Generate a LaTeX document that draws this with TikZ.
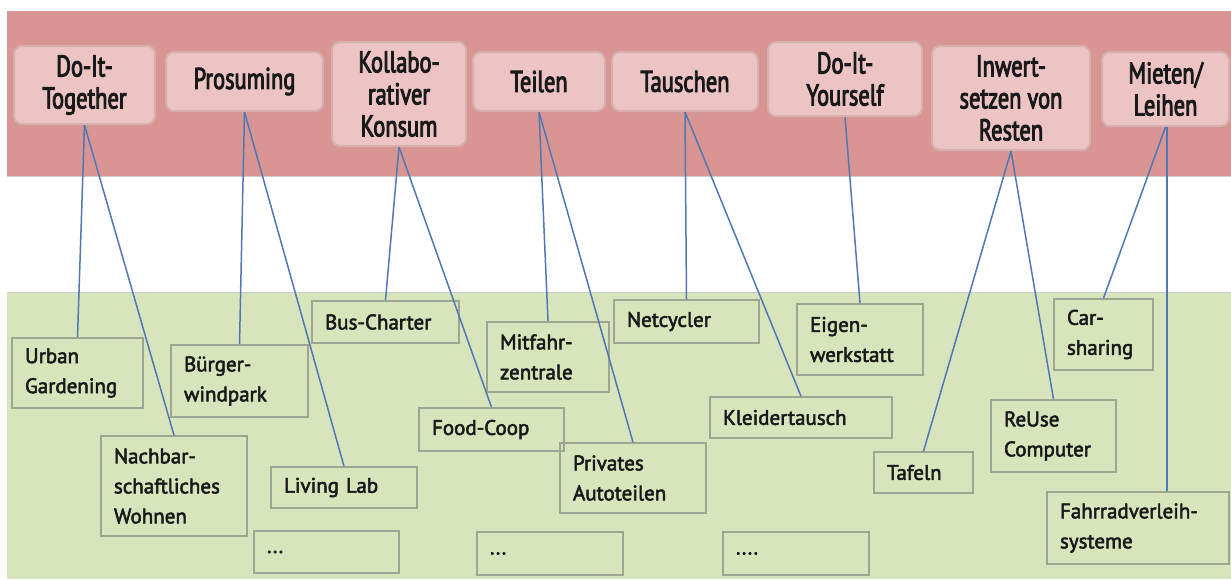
\documentclass[tikz,border=0pt]{standalone}
\usepackage{fontspec}
\setmainfont{PT Sans}[FakeBold=2.5]
\newfontfamily\headfont{PT Sans}[FakeStretch=0.75, FakeBold=3]
\definecolor{redband}{RGB}{217,149,148}
\definecolor{greenband}{RGB}{216,228,188}
\definecolor{catfill}{RGB}{236,196,196}
\definecolor{catline}{RGB}{214,176,174}
\definecolor{itemline}{RGB}{160,165,145}
\definecolor{linkblue}{RGB}{80,120,180}
\definecolor{txt}{RGB}{25,25,25}
\begin{document}
\begin{tikzpicture}[x=0.5pt, y=-0.5pt,
		cat/.style = {shape=rectangle, rounded corners=4pt, draw=catline,
			line width=1pt, fill=catfill, align=center, inner ysep=2pt,
			text=txt, font=\headfont\fontsize{15}{16}\selectfont},
		item/.style = {shape=rectangle, draw=itemline, line width=0.8pt,
			align=left, inner xsep=6.5pt, inner ysep=2pt,
			text=txt, font=\fontsize{10.5}{15}\selectfont},
		link/.style = {draw=linkblue, line width=0.75pt}]
	\useasboundingbox (0,0) rectangle (1231,579);
	% bands
	\fill[redband] (7,11) rectangle (1231,176);
	\draw[black!20, line width=0.4pt] (7,176) -- (1231,176);
	\fill[greenband] (7,292) rectangle (1231,579);
	\draw[black!20, line width=0.4pt] (7,292) -- (1231,292);
	% categories
	\node[cat, minimum width=70.5pt, minimum height=39pt] (dit) at (84.5,85) {Do-It-\\Together};
	\node[cat, minimum width=78.5pt, minimum height=29.5pt] (pro) at (244.5,81.5) {Prosuming};
	\node[cat, minimum width=67pt, minimum height=52pt] (kk) at (399,94) {Kollabo-\\rativer\\Konsum};
	\node[cat, minimum width=66pt, minimum height=29.5pt] (tei) at (539,81.5) {Teilen};
	\node[cat, minimum width=73pt, minimum height=29.5pt] (tau) at (685,81.5) {Tauschen};
	\node[cat, minimum width=77pt, minimum height=37pt] (diy) at (845,79) {Do-It-\\Yourself};
	\node[cat, minimum width=79pt, minimum height=52pt] (inw) at (1011,98) {Inwert-\\setzen von\\Resten};
	\node[cat, minimum width=63.5pt, minimum height=37pt] (mie) at (1165.5,89) {Mieten/\\Leihen};
	% examples
	\node[item, text width=52.5pt, minimum height=35pt] (ug) at (77.5,373) {Urban\\Gardening};
	\node[item, text width=60pt, minimum height=50pt] (nw) at (174,486) {Nachbar-\\schaftliches\\Wohnen};
	\node[item, text width=55.5pt, minimum height=36pt] (bw) at (239.5,381) {Bürger-\\windpark};
	\node[item, text width=60pt, minimum height=20.5pt] (ll) at (344,487.5) {Living Lab};
	\node[item, text width=59.5pt, minimum height=21pt] (dotsa) at (326.5,552) {...};
	\node[item, text width=60.5pt, minimum height=21pt] (bc) at (385.5,322) {Bus-Charter};
	\node[item, text width=48pt, minimum height=35pt] (mz) at (548,357) {Mitfahr-\\zentrale};
	\node[item, text width=59.5pt, minimum height=21.5pt] (fc) at (491.5,429.5) {Food-Coop};
	\node[item, text width=60pt, minimum height=35pt] (pa) at (633,478) {Privates\\Autoteilen};
	\node[item, text width=60pt, minimum height=21.5pt] (dotsb) at (550,553.5) {...};
	\node[item, text width=59.5pt, minimum height=21.5pt] (nc) at (686.5,321.5) {Netcycler};
	\node[item, text width=78pt, minimum height=20.5pt] (kt) at (801,417.5) {Kleidertausch};
	\node[item, text width=50pt, minimum height=35.5pt] (ew) at (860,339.5) {Eigen-\\werkstatt};
	\node[item, text width=60pt, minimum height=21.5pt] (dotsc) at (796,553.5) {....};
	\node[item, text width=36.5pt, minimum height=20.5pt] (tf) at (923.5,472.5) {Tafeln};
	\node[item, text width=49.5pt, minimum height=36pt] (rc) at (1053.5,436) {ReUse\\Computer};
	\node[item, text width=36.5pt, minimum height=35.5pt] (cs) at (1103.5,334.5) {Car-\\sharing};
	\node[item, text width=78pt, minimum height=36pt] (fv) at (1138,528) {Fahrradverleih-\\systeme};
	% links
	\foreach \a/\b in {dit/ug, dit/nw, pro/bw, pro/ll, kk/bc, kk/fc, tei/mz, tei/pa,
			tau/nc, tau/kt, diy/ew, inw/tf, inw/rc, mie/cs}
		\draw[link] (\a.south) -- (\b.north);
	\draw[link] ([xshift=0.75pt]mie.south) -- ([xshift=0.75pt]mie.south |- fv.north);
\end{tikzpicture}
\end{document}
